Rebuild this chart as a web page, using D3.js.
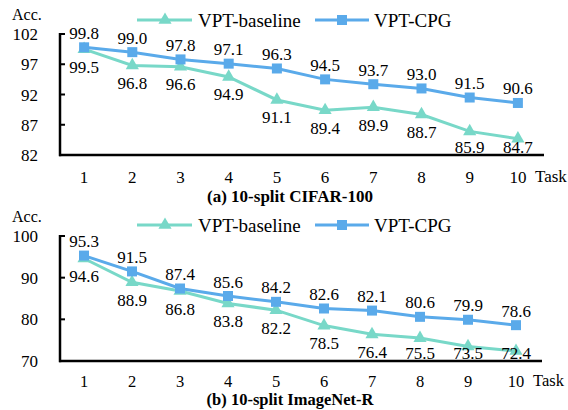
<!DOCTYPE html>
<html><head><meta charset="utf-8">
<script src="https://cdn.jsdelivr.net/npm/d3@7"></script>
<style>body{margin:0;background:#fff}svg{display:block}</style>
</head><body><svg id="c" width="568" height="410" font-family="'Liberation Serif', 'Times New Roman', Tinos, 'DejaVu Serif', serif"></svg>
<script>
const tasks = [1,2,3,4,5,6,7,8,9,10];
const cifarBaseline = [99.5,96.8,96.6,94.9,91.1,89.4,89.9,88.7,85.9,84.7];
const cifarCPG = [99.8,99.0,97.8,97.1,96.3,94.5,93.7,93.0,91.5,90.6];
const cifarTicks = [82,87,92,97,102];
const imnetBaseline = [94.6,88.9,86.8,83.8,82.2,78.5,76.4,75.5,73.5,72.4];
const imnetCPG = [95.3,91.5,87.4,85.6,84.2,82.6,82.1,80.6,79.9,78.6];
const imnetTicks = [70,80,90,100];
const seriesNames = ["VPT-baseline","VPT-CPG"];
const titles = ["(a) 10-split CIFAR-100","(b) 10-split ImageNet-R"];
const colors = {base:"#78d8c8", cpg:"#5aaaea"};

const svg = d3.select("#c");
const FF = "'Liberation Serif', 'Times New Roman', Tinos, 'DejaVu Serif', serif";

function txt(g, x, y, s, size, anchor){
  return g.append("text").attr("x",x).attr("y",y).attr("font-family",FF).attr("font-size",size)
    .attr("text-anchor",anchor||"start").attr("fill","#000").text(s);
}

function panel(cfg){
  const g = svg.append("g");
  const x = d3.scalePoint().domain(tasks).range([60, cfg.right]).padding(0.5);
  const y = d3.scaleLinear().domain([cfg.ticks[0], cfg.ticks[cfg.ticks.length-1]]).range([cfg.bottom, cfg.top]);
  cfg.ticks.forEach(t=>{
    txt(g, 38, y(t)+6, t, 17, "end");
    if (t!==cfg.ticks[0]) g.append("line").attr("x1",60).attr("x2",65).attr("y1",y(t)).attr("y2",y(t)).attr("stroke","#000").attr("stroke-width",2);
  });
  g.append("line").attr("x1",60).attr("x2",60).attr("y1",y(cfg.ticks[cfg.ticks.length-1])-1).attr("y2",cfg.bottom+1.2).attr("stroke","#000").attr("stroke-width",2.5);
  g.append("line").attr("x1",59).attr("x2",cfg.right+2).attr("y1",cfg.bottom).attr("y2",cfg.bottom).attr("stroke","#000").attr("stroke-width",2.5);
  tasks.forEach(t=>{ txt(g, x(t), cfg.bottom+cfg.tickDy, t, cfg.tickSize, "middle"); });
  txt(g, cfg.right-7, cfg.bottom+cfg.tickDy-1, "Task", cfg.tickSize);
  txt(g, 12, cfg.top-14, "Acc.", 16);
  txt(g, 290, cfg.bottom+cfg.titleDy, cfg.title, cfg.titleSize, "middle").attr("font-weight","bold");

  const line = d3.line().x((d,i)=>x(tasks[i])).y(d=>y(d));
  g.append("path").datum(cfg.base).attr("d",line).attr("fill","none").attr("stroke",colors.base).attr("stroke-width",3);
  const tri = d3.symbol().type(d3.symbolTriangle).size(75);
  g.selectAll(null).data(cfg.base).enter().append("path").attr("d",tri).attr("fill",colors.base)
    .attr("transform",(d,i)=>`translate(${x(tasks[i])},${y(d)})`);
  g.append("path").datum(cfg.cpg).attr("d",line).attr("fill","none").attr("stroke",colors.cpg).attr("stroke-width",3);
  g.selectAll(null).data(cfg.cpg).enter().append("rect").attr("width",10).attr("height",10).attr("fill",colors.cpg)
    .attr("x",(d,i)=>x(tasks[i])-5).attr("y",d=>y(d)-5);
  cfg.cpg.forEach((d,i)=>txt(g, x(tasks[i]), y(d)-8.5, d.toFixed(1), 17, "middle"));
  cfg.base.forEach((d,i)=>txt(g, x(tasks[i]), Math.min(y(d)+23.5, cfg.bottom-2.5), d.toFixed(1), 17, "middle"));
  const ly = cfg.legendY;
  g.append("line").attr("x1",137).attr("x2",192).attr("y1",ly).attr("y2",ly).attr("stroke",colors.base).attr("stroke-width",3);
  g.append("path").attr("d",tri).attr("fill",colors.base).attr("transform",`translate(165,${ly})`);
  txt(g, 198, ly+6.5, seriesNames[0], 19);
  g.append("line").attr("x1",315).attr("x2",369).attr("y1",ly).attr("y2",ly).attr("stroke",colors.cpg).attr("stroke-width",3);
  g.append("rect").attr("x",337).attr("y",ly-5).attr("width",10).attr("height",10).attr("fill",colors.cpg);
  txt(g, 374, ly+6.5, seriesNames[1], 19);
}

panel({ticks:cifarTicks, base:cifarBaseline, cpg:cifarCPG, top:34, bottom:155, right:542, title:titles[0], legendY:20, tickDy:28, titleDy:47, tickSize:17, titleSize:17});
panel({ticks:imnetTicks, base:imnetBaseline, cpg:imnetCPG, top:236, bottom:361, right:540, title:titles[1], legendY:225, tickDy:26, titleDy:43.5, tickSize:16.5, titleSize:16.5});
</script></body></html>
